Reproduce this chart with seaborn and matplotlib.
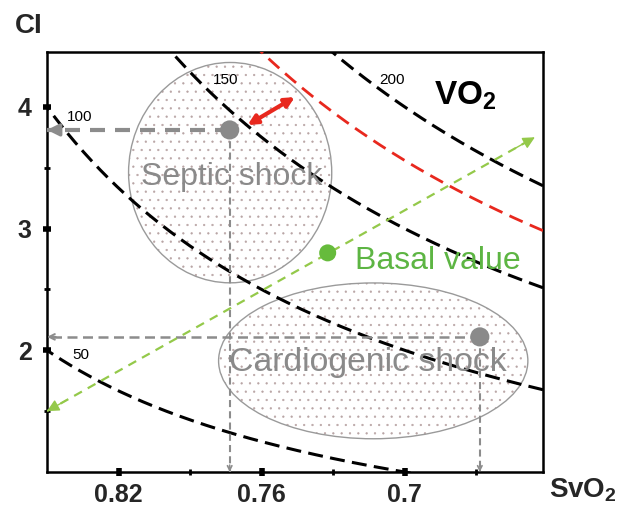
import numpy as np
import pandas as pd
import matplotlib
matplotlib.use("Agg")
import matplotlib.pyplot as plt
from matplotlib.patches import Ellipse
import seaborn as sns

# VO2 isolines: VO2 = k * CI * (SaO2 - SvO2)
vo2_black = [50, 100, 150, 200]
vo2_red = 178
sao2 = 1.0
k_factor = 166.7
iso_labels = ["50", "100", "150", "200"]
iso_label_x = [0.8393, 0.8418, 0.7806, 0.7105]
iso_label_y = [1.96, 3.92, 4.22, 4.22]

# states
septic_pt = (0.7734, 3.81)
cardio_pt = (0.6685, 2.11)
basal_pt = (0.7323, 2.80)
green_line = [(0.85, 1.5), (0.6454, 3.75)]
red_arrow = [(0.7659, 3.85), (0.7461, 4.08)]

# ellipses: center, width, height
septic_ell = ((0.7732, 3.459), 0.0852, 1.81)
cardio_ell = ((0.7132, 1.913), 0.1297, 1.28)

x_major = [0.82, 0.76, 0.70]
x_minor = [0.79, 0.73, 0.67]
y_major = [2, 3, 4]
y_minor = [1.5, 2.5, 3.5]
xlim = (0.85, 0.642)
ylim = (1.0, 4.45)

sns.set_theme(style="white")
plt.rcParams["font.family"] = ["Liberation Sans", "DejaVu Sans"]
plt.rcParams["mathtext.fontset"] = "custom"
plt.rcParams["mathtext.rm"] = "Liberation Sans"
plt.rcParams["mathtext.bf"] = "Liberation Sans:bold"
plt.rcParams["hatch.linewidth"] = 0.4

fig = plt.figure(figsize=(6.38, 5.09), dpi=100)
ax = fig.add_axes([0.0737, 0.0727, 0.7774, 0.8251])
ax.set_xlim(*xlim)
ax.set_ylim(*ylim)

# ellipses with dotted fill
for (c, w, h) in [septic_ell, cardio_ell]:
    ax.add_patch(Ellipse(c, w, h, facecolor="white", edgecolor="#b8a4a4",
                         hatch="..", lw=0, zorder=1))
    ax.add_patch(Ellipse(c, w, h, facecolor="none", edgecolor="#9a9a9a",
                         lw=1.0, zorder=2))

# isolines
sv = np.linspace(xlim[1], xlim[0], 300)
for v in vo2_black:
    df = pd.DataFrame({"SvO2": sv, "CI": v / (k_factor * (sao2 - sv))})
    sns.lineplot(data=df, x="SvO2", y="CI", ax=ax, color="black", lw=2.2,
                 linestyle=(0, (4.9, 2.4)), sort=False, zorder=4)
df = pd.DataFrame({"SvO2": sv, "CI": vo2_red / (k_factor * (sao2 - sv))})
sns.lineplot(data=df, x="SvO2", y="CI", ax=ax, color="#e8281e", lw=2.0,
             linestyle=(0, (5.2, 2.8)), sort=False, zorder=4)
ax.set_xlim(*xlim)
ax.set_ylim(*ylim)

for t, x, y in zip(iso_labels, iso_label_x, iso_label_y):
    ax.text(x, y, t, fontsize=11, va="center", ha="left", color="black", zorder=6)


def dashed_arrow(p0, p1, color, lw, dash, head, ms):
    ax.plot([p0[0], p1[0]], [p0[1], p1[1]], color=color, lw=lw,
            linestyle=(0, dash), zorder=5, solid_capstyle="butt")
    dx = p1[0] - p0[0]
    dy = p1[1] - p0[1]
    ax.annotate("", xy=p1, xytext=(p1[0] - 0.02 * dx, p1[1] - 0.02 * dy),
                arrowprops=dict(arrowstyle=head, color=color, lw=lw * 0.8,
                                mutation_scale=ms, shrinkA=0, shrinkB=0),
                zorder=5)


gray = "#8c8c8c"
# septic projections
dashed_arrow(septic_pt, (xlim[0], septic_pt[1]), gray, 3.0, (3.6, 2.4), "-|>", 18)
dashed_arrow(septic_pt, (septic_pt[0], ylim[0]), gray, 1.5, (3.4, 2.0), "->", 8)
# cardiogenic projections
dashed_arrow(cardio_pt, (xlim[0], cardio_pt[1]), gray, 1.8, (4.0, 2.2), "->", 10)
dashed_arrow(cardio_pt, (cardio_pt[0], ylim[0]), gray, 1.5, (3.4, 2.0), "->", 8)

# green trajectory
g = "#94c94a"
ax.plot([green_line[0][0], green_line[1][0]], [green_line[0][1], green_line[1][1]],
        color=g, lw=1.6, linestyle=(0, (4.0, 3.0)), zorder=5)
for a, b in [(green_line[0], green_line[1]), (green_line[1], green_line[0])]:
    ax.annotate("", xy=b, xytext=(b[0] - 0.04 * (b[0] - a[0]), b[1] - 0.04 * (b[1] - a[1])),
                arrowprops=dict(arrowstyle="-|>", color=g, lw=1, mutation_scale=18,
                                shrinkA=0, shrinkB=0), zorder=5)

# red double arrow
ax.annotate("", xy=red_arrow[1], xytext=red_arrow[0],
            arrowprops=dict(arrowstyle="<|-|>", color="#e8281e", lw=3,
                            mutation_scale=14, shrinkA=0, shrinkB=0), zorder=7)

# points
pts = pd.DataFrame({"SvO2": [septic_pt[0], cardio_pt[0]], "CI": [septic_pt[1], cardio_pt[1]]})
sns.scatterplot(data=pts, x="SvO2", y="CI", ax=ax, color="#8a8a8a", s=190,
                edgecolor="none", zorder=8)
sns.scatterplot(x=[basal_pt[0]], y=[basal_pt[1]], ax=ax, color="#66bb3c", s=150,
                edgecolor="none", zorder=8)

# labels
ax.text(0.7726, 3.42, "Septic shock", fontsize=23, color="#8a8a8a",
        ha="center", va="center", zorder=9)
ax.text(0.7155, 1.90, "Cardiogenic shock", fontsize=24.3, color="#8a8a8a",
        ha="center", va="center", zorder=9)
ax.text(0.6861, 2.73, "Basal value", fontsize=23, color="#5db543",
        ha="center", va="center", zorder=9)
ax.text(0.6744, 4.09, r"$\mathbf{VO_2}$", fontsize=24, color="black",
        ha="center", va="center", zorder=9)

# axes styling
ax.set_xticks(x_major)
ax.set_xticks(x_minor, minor=True)
ax.set_yticks(y_major)
ax.set_yticks(y_minor, minor=True)
ax.set_xticklabels([f"{v:g}" for v in x_major], fontsize=18, fontweight="bold")
ax.set_yticklabels([str(v) for v in y_major], fontsize=18, fontweight="bold")
ax.tick_params(which="both", bottom=True, left=True)
ax.tick_params(which="major", direction="inout", length=6, width=4, color="black")
ax.tick_params(axis="x", which="major", pad=5)
ax.tick_params(axis="y", which="major", pad=8)
ax.tick_params(which="minor", direction="inout", length=4, width=2, color="black")
ax.set_xlabel("")
ax.set_ylabel("")
for s in ax.spines.values():
    s.set_color("black")
    s.set_linewidth(1.8)

fig.text(0.023, 0.949, "CI", fontsize=20, fontweight="bold", ha="left", va="center")
fig.text(0.86, 0.037, r"$\mathbf{SvO_2}$", fontsize=20, ha="left", va="center")

fig.savefig("out.png", dpi=100)
